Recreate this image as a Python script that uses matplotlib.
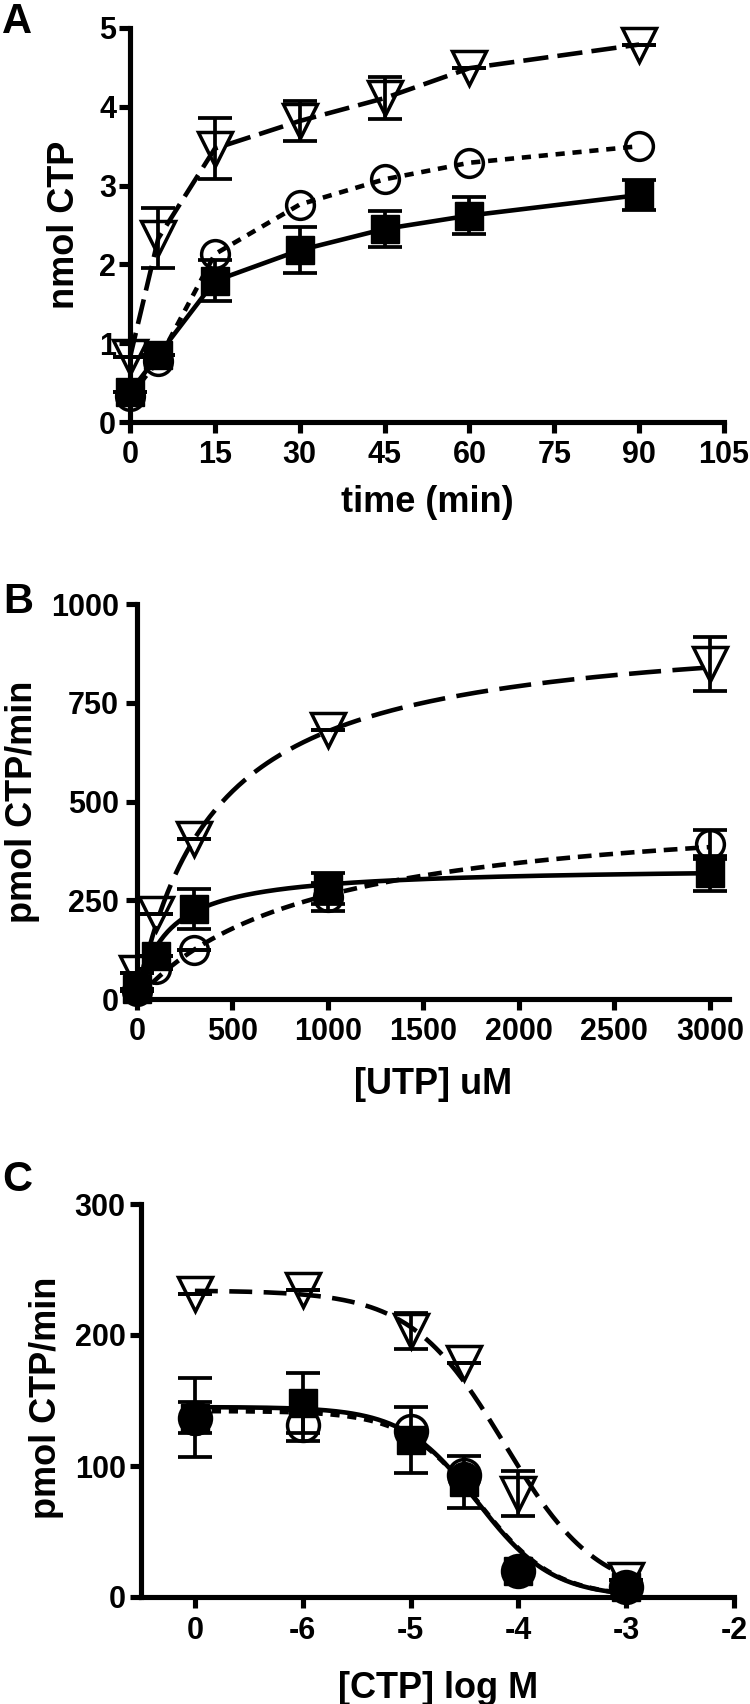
import numpy as np
import matplotlib
matplotlib.use("Agg")
import matplotlib.pyplot as plt

plt.rcParams['font.family'] = ['Liberation Sans', 'DejaVu Sans']
plt.rcParams['font.weight'] = 'bold'
plt.rcParams['axes.labelweight'] = 'bold'

# ---- panel A: time course ----
time_min = [0, 5, 15, 30, 45, 60, 90]
a_square = [0.38, 0.85, 1.79, 2.18, 2.45, 2.62, 2.88]
a_square_err = [0, 0, 0.26, 0.29, 0.23, 0.24, 0.19]
a_circle = [0.33, 0.78, 2.13, 2.76, 3.08, 3.29, 3.50]
a_circle_err = [0, 0, 0, 0, 0, 0, 0]
a_tri = [0.82, 2.33, 3.47, 3.82, 4.11, 4.49, 4.79]
a_tri_err = [0, 0.38, 0.39, 0.25, 0.27, 0, 0]
a_xticks = [0, 15, 30, 45, 60, 75, 90, 105]
a_yticks = [0, 1, 2, 3, 4, 5]

# ---- panel B: UTP dependence ----
utp_um = [0, 100, 300, 1000, 3000]
b_square = [25, 110, 228, 280, 318]
b_square_err = [0, 0, 50, 40, 45]
b_circle = [20, 75, 124, 258, 392]
b_circle_err = [0, 0, 0, 35, 37]
b_tri = [65, 215, 405, 680, 848]
b_tri_err = [0, 0, 0, 0, 68]
# Michaelis-Menten fit parameters (Vmax, Km)
b_fit_square = (335, 155)
b_fit_circle = (500, 900)
b_fit_tri = (953, 406)
b_xticks = [0, 500, 1000, 1500, 2000, 2500, 3000]
b_yticks = [0, 250, 500, 750, 1000]

# ---- panel C: CTP inhibition ----
log_ctp = [-7, -6, -5, -4.5, -4, -3]
c_square = [137, 148, 120, 88, 20, 8]
c_square_err = [30, 23, 25, 20, 0, 0]
c_circle = [137, 131, 127, 93, 20, 8]
c_circle_err = [12, 12, 0, 0, 0, 0]
c_fcircle_x = [-7, -4.5, -4, -3]
c_fcircle = [136, 91, 20, 8]
c_tri = [231, 234, 203, 179, 79, 13]
c_tri_err = [0, 0, 14, 0, 17, 0]
# dose-response fit parameters (top, logIC50, hill)
c_fit_square = (145, -4.38, 1.25)
c_fit_circle = (142, -4.36, 1.25)
c_fit_tri = (234, -4.13, 1.0)
c_xticks = [-7, -6, -5, -4, -3, -2]
c_xticklabels = ['0', '-6', '-5', '-4', '-3', '-2']
c_yticks = [0, 100, 200, 300]

W, H = 750, 1704
fig = plt.figure(figsize=(W / 100, H / 100), dpi=100)


def px_axes(x0, x1, ytop, ybot):
    return fig.add_axes([x0 / W, 1 - ybot / H, (x1 - x0) / W, (ybot - ytop) / H])


def style(ax, ypad, xpad):
    for s in ['top', 'right']:
        ax.spines[s].set_visible(False)
    for s in ['left', 'bottom']:
        ax.spines[s].set_linewidth(3.7)
        ax.spines[s].set_capstyle('projecting')
    ax.tick_params(direction='out', length=8, width=3.7, labelsize=22)
    ax.tick_params(axis='y', pad=ypad)
    ax.tick_params(axis='x', pad=xpad)
    for lab in ax.get_xticklabels() + ax.get_yticklabels():
        lab.set_fontweight('bold')


LW = 3.3
ERR = dict(fmt='none', ecolor='black', elinewidth=2.7, capsize=12, capthick=2.7, clip_on=False, zorder=3)
SQ = dict(marker='s', ms=20, color='black', clip_on=False, zorder=5)
OC = dict(marker='o', ms=20, mfc='none', mec='black', mew=2.5, color='black', clip_on=False, zorder=4)
TR = dict(marker='v', ms=25, mfc='none', mec='black', mew=2.5, color='black', clip_on=False, zorder=4)

# ---------- A ----------
axA = px_axes(130, 724, 28, 422)
axA.errorbar(time_min, a_tri, yerr=a_tri_err, **ERR)
axA.errorbar(time_min, a_square, yerr=a_square_err, **ERR)
axA.plot(time_min, a_tri, lw=LW, ls=(0, (5.5, 2)), **TR)
axA.plot(time_min, a_circle, lw=LW, ls=(0, (2, 1.7)), **OC)
axA.plot(time_min, a_square, lw=LW, ls='-', **SQ)
axA.set_xlim(0, 105)
axA.set_ylim(0, 5)
axA.set_xticks(a_xticks)
axA.set_yticks(a_yticks)
style(axA, 2, 5)
axA.set_xlabel('time (min)', fontsize=26, va='center')
axA.xaxis.set_label_coords(427 / W, 1 - 503 / H, transform=fig.transFigure)
axA.set_ylabel('nmol CTP', fontsize=26, va='center')
axA.yaxis.set_label_coords(65 / W, 1 - 225 / H, transform=fig.transFigure)

# ---------- B ----------
axB = px_axes(137, 729, 604, 999)
xs = np.linspace(0, 3000, 300)
for (vmax, km), ls in [(b_fit_tri, (0, (7, 2.5))), (b_fit_circle, (0, (3, 1.7))), (b_fit_square, '-')]:
    axB.plot(xs, vmax * xs / (km + xs), color='black', lw=LW, ls=ls, zorder=2)
axB.errorbar(utp_um, b_tri, yerr=b_tri_err, **ERR)
axB.errorbar(utp_um, b_circle, yerr=b_circle_err, **ERR)
axB.errorbar(utp_um, b_square, yerr=b_square_err, **ERR)
axB.plot(utp_um, b_tri, ls='none', **TR)
axB.plot(utp_um, b_circle, ls='none', **OC)
axB.plot(utp_um, b_square, ls='none', **SQ)
axB.set_xlim(0, 3100)
axB.set_ylim(0, 1000)
axB.set_xticks(b_xticks)
axB.set_yticks(b_yticks)
style(axB, 5, 5)
axB.set_xlabel('[UTP] uM', fontsize=26, va='center')
axB.xaxis.set_label_coords(433 / W, 1 - 1085 / H, transform=fig.transFigure)
axB.set_ylabel('pmol CTP/min', fontsize=26, va='center')
axB.yaxis.set_label_coords(23 / W, 1 - 802 / H, transform=fig.transFigure)

# ---------- C ----------
axC = px_axes(141, 734, 1204, 1597)
xc = np.linspace(-7, -3, 300)
for (top, lic50, hill), ls in [(c_fit_tri, (0, (5, 2.5))), (c_fit_circle, (0, (2, 1.7))), (c_fit_square, '-')]:
    axC.plot(xc, top / (1 + 10 ** ((xc - lic50) * hill)), color='black', lw=LW, ls=ls, zorder=2)
axC.errorbar(log_ctp, c_tri, yerr=c_tri_err, **ERR)
axC.errorbar(log_ctp, c_circle, yerr=c_circle_err, **ERR)
axC.errorbar(log_ctp, c_square, yerr=c_square_err, **ERR)
axC.plot(log_ctp, c_tri, ls='none', **TR)
axC.plot(log_ctp, c_circle, ls='none', **dict(OC, ms=23))
axC.plot(log_ctp, c_square, ls='none', **SQ)
axC.plot(c_fcircle_x, c_fcircle, ls='none', marker='o', ms=23, color='black', clip_on=False, zorder=6)
axC.set_xlim(-7.5, -2)
axC.set_ylim(0, 300)
axC.set_xticks(c_xticks)
axC.set_xticklabels(c_xticklabels)
axC.set_yticks(c_yticks)
style(axC, 3, 6)
axC.set_xlabel('[CTP] log M', fontsize=26, va='center')
axC.xaxis.set_label_coords(438 / W, 1 - 1688 / H, transform=fig.transFigure)
axC.set_ylabel('pmol CTP/min', fontsize=26, va='center')
axC.yaxis.set_label_coords(47 / W, 1 - 1398 / H, transform=fig.transFigure)

# panel letters
for letter, (lx, ly) in zip('ABC', [(17, 22), (18, 602), (17, 1180)]):
    fig.text(lx / W, 1 - ly / H, letter, fontsize=30, fontweight='bold', ha='center', va='center')

fig.savefig('out.png', dpi=100)
